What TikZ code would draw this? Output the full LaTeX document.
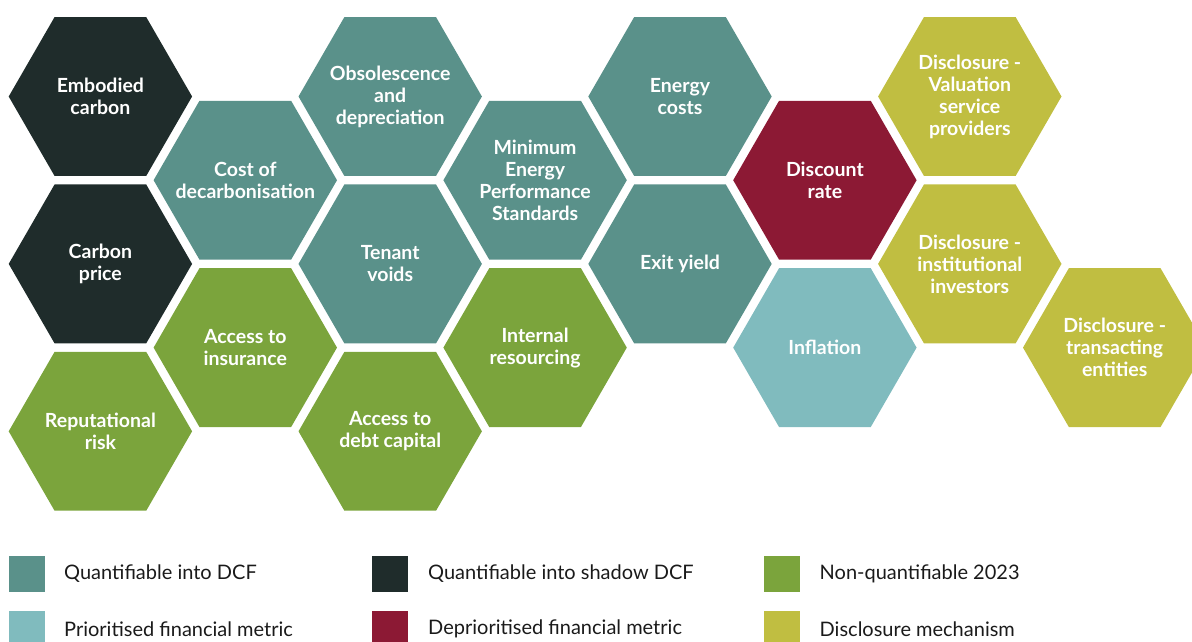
\documentclass[tikz,border=0pt]{standalone}
\usepackage{fontspec}
\setmainfont{Lato}
\usetikzlibrary{shapes.geometric}

\definecolor{dcfteal}{HTML}{5A918A}
\definecolor{shadowdark}{HTML}{1F2C2B}
\definecolor{nonqgreen}{HTML}{7BA43C}
\definecolor{priolight}{HTML}{80BBBE}
\definecolor{depriored}{HTML}{8C1934}
\definecolor{discolive}{HTML}{C0BE41}
\definecolor{legendtext}{HTML}{1A1A1A}

\tikzset{
  hextext/.style={text=white, align=center, inner sep=0pt,
    font=\fontsize{19.5}{22}\selectfont\bfseries},
  % the hexagon itself carries no text, so its size never changes;
  % the caption sits on it as a centred label
  hexcell/.style={regular polygon, regular polygon sides=6, minimum size=183.4pt,
    inner sep=0pt, outer sep=0pt, draw=none,
    label={[hextext]center:{#1}}},
  quant/.style={hexcell={#1}, fill=dcfteal},
  shadow/.style={hexcell={#1}, fill=shadowdark},
  nonquant/.style={hexcell={#1}, fill=nonqgreen},
  prio/.style={hexcell={#1}, fill=priolight},
  deprio/.style={hexcell={#1}, fill=depriored},
  disclose/.style={hexcell={#1}, fill=discolive},
  legsq/.style={rectangle, minimum size=36pt, inner sep=0pt, outer sep=0pt, draw=none},
  legtxt/.style={anchor=west, inner sep=0pt, text=legendtext,
    font=\fontsize{20}{24}\selectfont}
}

\begin{document}
\begin{tikzpicture}[x=1pt,y=-1pt]
  \useasboundingbox (0,0) rectangle (1192,641);
  \clip (0,0) rectangle (1192,641);

  % column 1
  \node[shadow={Embodied\\carbon}]        (embodied)    at (100.4,96.5)  {};
  \node[shadow={Carbon\\price}]           (carbonprice) at (100.4,263.9) {};
  \node[nonquant={Reputational\\risk}]    (reputation)  at (100.4,431.3) {};
  % column 2
  \node[quant={Cost of\\decarbonisation}] (decarb)      at (245.3,180.2) {};
  \node[nonquant={Access to\\insurance}]  (insurance)   at (245.3,347.6) {};
  % column 3
  \node[quant={Obsolescence\\and\\depreciation}] (obsolete) at (390.2,96.5) {};
  \node[quant={Tenant\\voids}]            (voids)       at (390.2,263.9) {};
  \node[nonquant={Access to\\debt capital}] (debt)      at (390.2,431.3) {};
  % column 4
  \node[quant={Minimum\\Energy\\Performance\\Standards}] (mees) at (535.1,180.2) {};
  \node[nonquant={Internal\\resourcing}]  (resourcing)  at (535.1,347.6) {};
  % column 5
  \node[quant={Energy\\costs}]            (energy)      at (680.0,96.5)  {};
  \node[quant={Exit yield}]               (exit)        at (680.0,263.9) {};
  % column 6
  \node[deprio={Discount\\rate}]          (discount)    at (824.9,180.2) {};
  \node[prio={Inflation}]                 (inflation)   at (824.9,347.6) {};
  % column 7
  \node[disclose={Disclosure -\\Valuation\\service\\providers}] (valuation) at (969.8,96.5) {};
  \node[disclose={Disclosure -\\institutional\\investors}] (institution) at (969.8,263.9) {};
  % column 8
  \node[disclose={Disclosure -\\transacting\\entities}] (transact) at (1114.7,347.6) {};

  % legend
  \node[legsq, fill=dcfteal]    (kq)  at (27,574)    {};
  \node[legtxt] (kqt)  at (64,574)    {Quantifiable into DCF};
  \node[legsq, fill=shadowdark] (ks)  at (390,574)   {};
  \node[legtxt] (kst)  at (428,574)   {Quantifiable into shadow DCF};
  \node[legsq, fill=nonqgreen]  (kn)  at (782,574)   {};
  \node[legtxt] (knt)  at (819.5,574) {Non-quantifiable 2023};
  \node[legsq, fill=priolight]  (kp)  at (27,629)    {};
  \node[legtxt] (kpt)  at (64,629)    {Prioritised financial metric};
  \node[legsq, fill=depriored]  (kd)  at (390,629)   {};
  \node[legtxt] (kdt)  at (428,629)   {Deprioritised financial metric};
  \node[legsq, fill=discolive]  (km)  at (782,629)   {};
  \node[legtxt] (kmt)  at (819.5,629) {Disclosure mechanism};
\end{tikzpicture}
\end{document}
